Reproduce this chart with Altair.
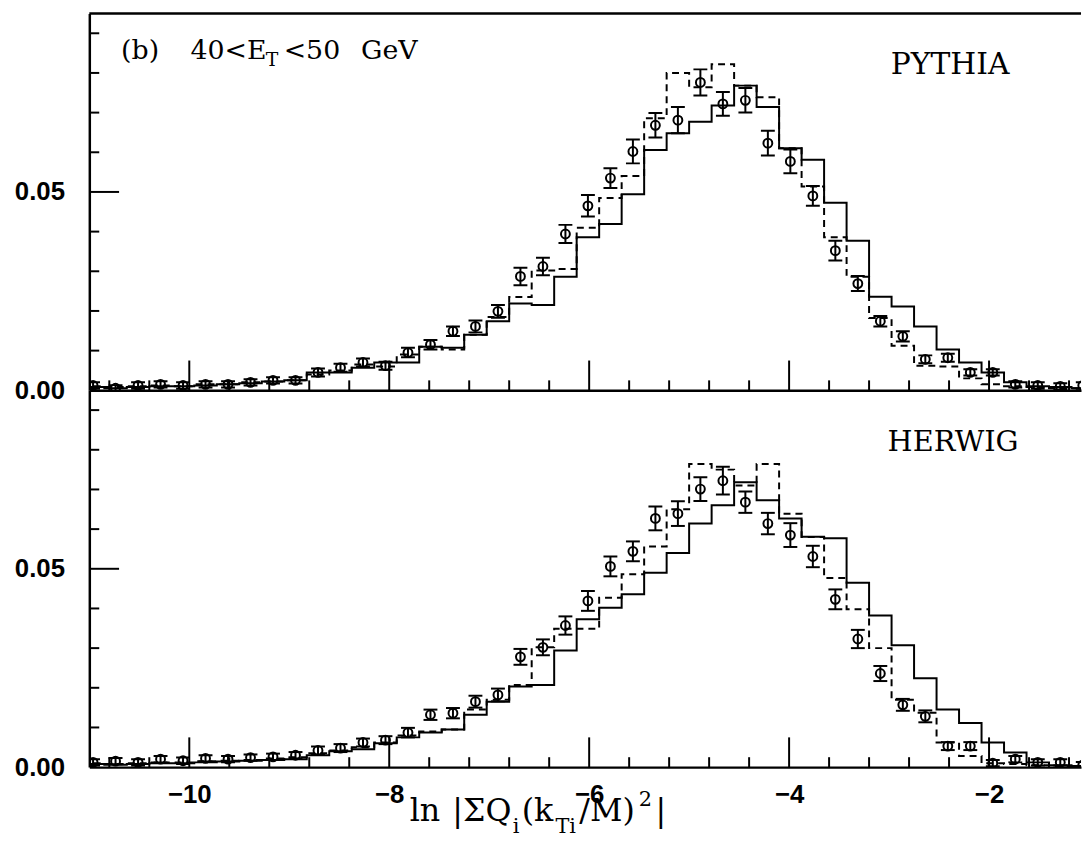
import altair as alt
import pandas as pd

# ---------------- data ----------------
bin_edges = [-11.075, -10.85, -10.625, -10.4, -10.175, -9.95, -9.725, -9.5, -9.275, -9.05,
             -8.825, -8.6, -8.375, -8.15, -7.925, -7.7, -7.475, -7.25, -7.025, -6.8,
             -6.575, -6.35, -6.125, -5.9, -5.675, -5.45, -5.225, -5.0, -4.775, -4.55,
             -4.325, -4.1, -3.875, -3.65, -3.425, -3.2, -2.975, -2.75, -2.525, -2.3,
             -2.075, -1.85, -1.625, -1.4, -1.175, -0.95]

pythia_solid = [0.0008, 0.0005, 0.0008, 0.0010, 0.0010, 0.0012, 0.0015, 0.0018, 0.0022, 0.0025,
                0.0045, 0.0045, 0.0057, 0.0070, 0.0070, 0.0110, 0.0107, 0.0140, 0.0174, 0.0219,
                0.0215, 0.0286, 0.0386, 0.0419, 0.0494, 0.0606, 0.0648, 0.0677, 0.0718, 0.0768,
                0.0714, 0.0610, 0.0581, 0.0473, 0.0377, 0.0236, 0.0211, 0.0161, 0.0103, 0.0070,
                0.0045, 0.0020, 0.0010, 0.0008, 0.0005]
pythia_dashed = [0.0010, 0.0008, 0.0010, 0.0012, 0.0010, 0.0015, 0.0015, 0.0020, 0.0022, 0.0025,
                 0.0040, 0.0050, 0.0065, 0.0060, 0.0090, 0.0110, 0.0103, 0.0140, 0.0185, 0.0235,
                 0.0302, 0.0306, 0.0410, 0.0485, 0.0540, 0.0686, 0.0800, 0.0764, 0.0822, 0.0768,
                 0.0739, 0.0610, 0.0514, 0.0386, 0.0286, 0.0182, 0.0112, 0.0062, 0.0060, 0.0030,
                 0.0015, 0.0010, 0.0008, 0.0005, 0.0005]
pythia_data = [0.0012, 0.0005, 0.0012, 0.0015, 0.0012, 0.0015, 0.0015, 0.0020, 0.0025, 0.0025,
               0.0045, 0.0057, 0.0070, 0.0062, 0.0095, 0.0115, 0.0149, 0.0161, 0.0199, 0.0287,
               0.0312, 0.0394, 0.0465, 0.0535, 0.0602, 0.0668, 0.0681, 0.0776, 0.0722, 0.0731,
               0.0623, 0.0577, 0.0490, 0.0352, 0.0269, 0.0174, 0.0136, 0.0078, 0.0082, 0.0045,
               0.0045, 0.0015, 0.0012, 0.0010, 0.0012]
pythia_err = [0.0008, 0.0008, 0.0008, 0.0008, 0.0008, 0.0008, 0.0008, 0.0008, 0.0008, 0.0008,
              0.0010, 0.0010, 0.0010, 0.0010, 0.0012, 0.0012, 0.0012, 0.0015, 0.0016, 0.0022,
              0.0022, 0.0023, 0.0027, 0.0025, 0.0030, 0.0031, 0.0033, 0.0033, 0.0030, 0.0031,
              0.0031, 0.0030, 0.0025, 0.0025, 0.0019, 0.0013, 0.0013, 0.0010, 0.0010, 0.0008,
              0.0008, 0.0008, 0.0008, 0.0008, 0.0008]

herwig_solid = [0.0008, 0.0006, 0.0008, 0.0010, 0.0010, 0.0012, 0.0014, 0.0016, 0.0018, 0.0020,
                0.0030, 0.0040, 0.0045, 0.0060, 0.0075, 0.0087, 0.0095, 0.0132, 0.0165, 0.0203,
                0.0207, 0.0294, 0.0373, 0.0402, 0.0436, 0.0490, 0.0540, 0.0614, 0.0660, 0.0718,
                0.0673, 0.0627, 0.0581, 0.0577, 0.0465, 0.0382, 0.0307, 0.0224, 0.0145, 0.0111,
                0.0062, 0.0037, 0.0012, 0.0005, 0.0003]
herwig_dashed = [0.0010, 0.0008, 0.0010, 0.0012, 0.0012, 0.0015, 0.0016, 0.0018, 0.0022, 0.0025,
                 0.0035, 0.0042, 0.0050, 0.0062, 0.0080, 0.0090, 0.0095, 0.0145, 0.0170, 0.0207,
                 0.0302, 0.0349, 0.0349, 0.0427, 0.0486, 0.0556, 0.0650, 0.0764, 0.0750, 0.0710,
                 0.0764, 0.0639, 0.0580, 0.0477, 0.0398, 0.0300, 0.0170, 0.0137, 0.0062, 0.0028,
                 0.0010, 0.0008, 0.0005, 0.0003, 0.0002]
herwig_data = [0.0012, 0.0015, 0.0012, 0.0020, 0.0016, 0.0022, 0.0020, 0.0024, 0.0026, 0.0030,
               0.0042, 0.0048, 0.0062, 0.0068, 0.0087, 0.0132, 0.0136, 0.0165, 0.0182, 0.0278,
               0.0302, 0.0357, 0.0419, 0.0506, 0.0544, 0.0627, 0.0639, 0.0701, 0.0722, 0.0668,
               0.0614, 0.0585, 0.0531, 0.0423, 0.0323, 0.0236, 0.0157, 0.0128, 0.0053, 0.0053,
               0.0010, 0.0020, 0.0012, 0.0012, 0.0005]
herwig_err = [0.0008, 0.0008, 0.0008, 0.0008, 0.0008, 0.0008, 0.0008, 0.0008, 0.0008, 0.0008,
              0.0010, 0.0010, 0.0010, 0.0010, 0.0012, 0.0013, 0.0013, 0.0015, 0.0016, 0.0020,
              0.0020, 0.0023, 0.0025, 0.0025, 0.0025, 0.0030, 0.0031, 0.0030, 0.0035, 0.0027,
              0.0027, 0.0030, 0.0027, 0.0025, 0.0023, 0.0019, 0.0015, 0.0015, 0.0010, 0.0010,
              0.0008, 0.0008, 0.0008, 0.0008, 0.0008]

x_label_ticks = [-10, -8, -6, -4, -2]
x_minor_ticks = [-10.8, -10.4, -9.6, -9.2, -8.8, -8.4, -7.6, -7.2, -6.8, -6.4,
                 -5.6, -5.2, -4.8, -4.4, -3.6, -3.2, -2.8, -2.4, -1.6, -1.2]
y_label_ticks = [0.0, 0.05]
y_major_ticks = [0.05]
y_minor_ticks = [0.01, 0.02, 0.03, 0.04, 0.06, 0.07, 0.08, 0.09]

X_DOMAIN = [-11.0, -1.08]
Y_DOMAIN = [0.0, 0.095]
W, H = 1000, 380

SANS = "Liberation Sans"
SERIF = "DejaVu Serif"

centers = [(a + b) / 2 for a, b in zip(bin_edges[:-1], bin_edges[1:])]


def step_df(vals):
    return pd.DataFrame({"x": bin_edges, "y": list(vals) + [vals[-1]]})


def data_df(vals, errs):
    return pd.DataFrame({
        "x": centers,
        "y": vals,
        "lo": [v - e for v, e in zip(vals, errs)],
        "hi": [v + e for v, e in zip(vals, errs)],
    })


def txt(s, px, py, size, font=SERIF, align="left"):
    return alt.Chart(pd.DataFrame({"t": [s]})).mark_text(
        font=font, fontSize=size, align=align, baseline="alphabetic", color="black"
    ).encode(x=alt.value(px), y=alt.value(py), text="t:N")


def panel(solid, dashed, data, err, bottom, texts):
    xs = alt.Scale(domain=X_DOMAIN, nice=False, zero=False)
    ys = alt.Scale(domain=Y_DOMAIN, nice=False, zero=False)
    xa = alt.Axis(values=x_label_ticks, format="d", labels=bottom, labelFont=SANS,
                  labelFontSize=26, labelFontWeight="bold", labelColor="black",
                  labelPadding=15, ticks=False, tickSize=0, grid=False,
                  domainColor="black", domainWidth=2.5, title=None)
    ya = alt.Axis(values=y_label_ticks, format=".2f", labelFont=SANS, labelFontSize=26,
                  labelFontWeight="bold", labelColor="black", labelPadding=25,
                  ticks=False, tickSize=0, grid=False, domainColor="black",
                  domainWidth=2.5, title=None)

    def X(f="x"):
        return alt.X(f"{f}:Q", scale=xs, axis=xa)

    def Y(f="y"):
        return alt.Y(f"{f}:Q", scale=ys, axis=ya)

    layers = []
    layers.append(alt.Chart(pd.DataFrame({"x": x_label_ticks})).mark_rule(
        color="black", strokeWidth=2).encode(x=X(), y=alt.value(H), y2=alt.value(H - 30)))
    layers.append(alt.Chart(pd.DataFrame({"x": x_minor_ticks})).mark_rule(
        color="black", strokeWidth=2).encode(x=X(), y=alt.value(H), y2=alt.value(H - 10)))
    layers.append(alt.Chart(pd.DataFrame({"y": y_major_ticks})).mark_rule(
        color="black", strokeWidth=2).encode(y=Y(), x=alt.value(0), x2=alt.value(30)))
    layers.append(alt.Chart(pd.DataFrame({"y": y_minor_ticks})).mark_rule(
        color="black", strokeWidth=2).encode(y=Y(), x=alt.value(0), x2=alt.value(10)))
    if not bottom:
        layers.append(alt.Chart(pd.DataFrame({"y": [Y_DOMAIN[1]]})).mark_rule(
            color="black", strokeWidth=2.5).encode(y=Y(), x=alt.value(0), x2=alt.value(W)))

    layers.append(alt.Chart(step_df(solid)).mark_line(
        interpolate="step-after", color="black", strokeWidth=2, clip=True).encode(x=X(), y=Y()))
    layers.append(alt.Chart(step_df(dashed)).mark_line(
        interpolate="step-after", color="black", strokeWidth=2, strokeDash=[7, 5],
        clip=True).encode(x=X(), y=Y()))

    d = data_df(data, err)
    layers.append(alt.Chart(d).mark_rule(color="black", strokeWidth=2, clip=True).encode(
        x=X(), y=Y("lo"), y2="hi:Q"))
    layers.append(alt.Chart(d).mark_tick(orient="horizontal", size=14, thickness=2,
                                         color="black", opacity=1, clip=True).encode(
        x=X(), y=Y("lo")))
    layers.append(alt.Chart(d).mark_tick(orient="horizontal", size=14, thickness=2,
                                         color="black", opacity=1, clip=True).encode(
        x=X(), y=Y("hi")))
    layers.append(alt.Chart(d).mark_point(shape="circle", filled=False, size=80, strokeWidth=2,
                                          color="black", opacity=1, clip=True).encode(
        x=X(), y=Y()))
    layers.extend(texts)
    return alt.layer(*layers).properties(width=W, height=H)


# annotation texts (pieces so that subscripts can be lowered)
top_texts = [
    txt("(b)", 32, 46, 27),
    txt("40<E", 102, 46, 27),
    txt("T", 178, 53, 19),
    txt("<50", 196, 46, 27),
    txt("GeV", 274, 46, 27),
    txt("PYTHIA", 868, 61, 30, align="center"),
]
bottom_texts = [
    txt("HERWIG", 871, 61, 29, align="center"),
    txt("ln", 323, 434, 32),
    txt("|ΣQ", 366, 434, 32),
    txt("i", 427, 446, 21),
    txt("(k", 436, 434, 32),
    txt("Ti", 470, 446, 21),
    txt("/M)", 494, 434, 32),
    txt("2", 554, 419, 21),
    txt("|", 571, 434, 32),
]

top = panel(pythia_solid, pythia_dashed, pythia_data, pythia_err, False, top_texts)
bottom = panel(herwig_solid, herwig_dashed, herwig_data, herwig_err, True, bottom_texts)

chart = alt.vconcat(top, bottom, spacing=0, bounds="flush").configure_view(
    strokeWidth=0).properties(padding={"left": 6, "top": 0, "right": 0, "bottom": 0},
                              background="white")

chart.save("out.html", embed_options={"renderer": "svg", "actions": False})
